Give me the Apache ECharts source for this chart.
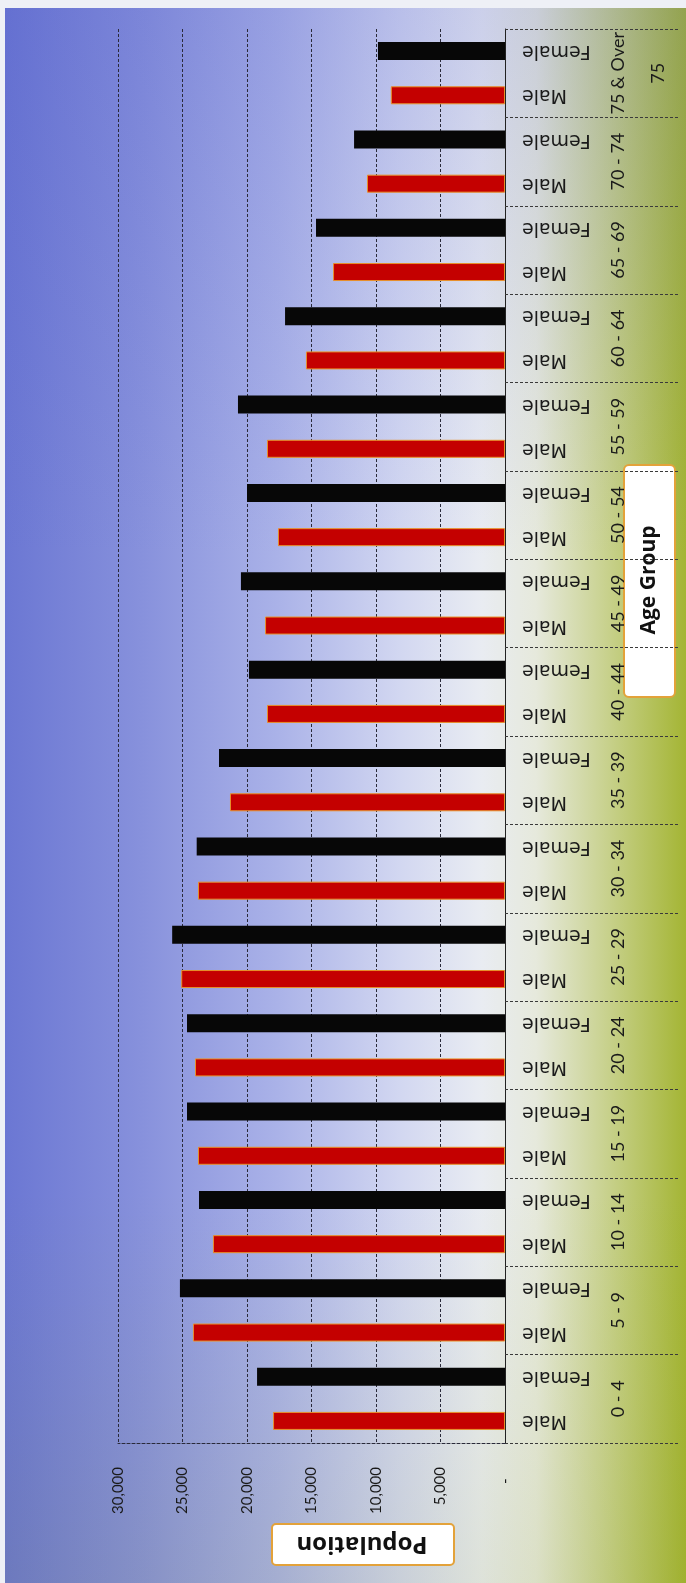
<!DOCTYPE html>
<html>
<head>
<meta charset="utf-8">
<script src="https://cdn.jsdelivr.net/npm/echarts@6/dist/echarts.min.js"></script>
<style>
html,body{margin:0;padding:0;}
body{width:686px;height:1583px;overflow:hidden;background:#eef0f6;}
#bg{position:absolute;left:5px;top:8px;width:681px;height:1575px;
background:
 linear-gradient(to bottom, rgba(70,80,200,0.18) 0%, rgba(255,255,255,0) 35%, rgba(255,255,255,0) 75%, rgba(120,140,0,0.10) 100%),
 linear-gradient(to right, #6b77d3 0%, #8791dc 20%, #aab2e8 40%, #d2d7f1 58%, #e9ecf2 70%, #e6e9dc 78%, #c9d290 88%, #a4b534 100%);}
#chart{position:absolute;left:0;top:0;width:686px;height:1583px;}
</style>
</head>
<body>
<div id="bg"></div>
<div id="chart"></div>
<script>
var ageGroups = ['0 - 4','5 - 9','10 - 14','15 - 19','20 - 24','25 - 29','30 - 34','35 - 39','40 - 44','45 - 49','50 - 54','55 - 59','60 - 64','65 - 69','70 - 74','75 & Over\n75'];
var sexLabels = ['Male','Female'];
var maleValues   = [17980, 24190, 22640, 23800, 24030, 25100, 23800, 21320, 18450, 18600, 17600, 18450, 15430, 13330, 10700, 8850];
var femaleValues = [19220, 25200, 23720, 24650, 24650, 25800, 23900, 22170, 19850, 20470, 20000, 20700, 17050, 14650, 11700, 9850];
var valueTicks = [0, 5000, 10000, 15000, 20000, 25000, 30000];
</script>
<script>
var subCats = [], barData = [];
for (var i = 0; i < ageGroups.length; i++) {
  subCats.push(sexLabels[0]); barData.push({value: maleValues[i], itemStyle:{color:'#c40000', borderColor:'#e8902a', borderWidth:1}});
  subCats.push(sexLabels[1]); barData.push({value: femaleValues[i], itemStyle:{color:'#070707'}});
}
var chart = echarts.init(document.getElementById('chart'), null, {renderer:'canvas'});
var gridLine = {color:'#2a2a3a', width:1, type:[3,2]};
chart.setOption({
  backgroundColor: 'transparent',
  animation: false,
  grid: {left:118, right:181, top:29, bottom:140, containLabel:false},
  xAxis: {
    type:'value', inverse:true, min:valueTicks[0], max:valueTicks[valueTicks.length-1], interval:5000,
    position:'bottom',
    axisLine:{show:true, lineStyle:gridLine},
    axisTick:{show:false},
    splitLine:{show:true, lineStyle:gridLine},
    axisLabel:{rotate:90, margin:24, fontFamily:'Lato', fontSize:15, color:'#1a1a1a',
      formatter:function(v){ return v===0 ? '-   ' : v.toLocaleString('en-US'); }}
  },
  yAxis: [
    {type:'category', data:subCats, position:'right', gridIndex:0,
     axisLine:{show:true, lineStyle:{color:'#222', width:1}},
     axisTick:{show:false},
     splitLine:{show:false},
     axisLabel:{interval:0, rotate:180, margin:17, fontFamily:'DejaVu Sans', fontSize:19, color:'#1a1a1a'}},
    {type:'category', data:ageGroups, position:'right', gridIndex:0,
     axisLine:{show:false},
     axisTick:{show:true, interval:0, length:175, lineStyle:{color:'#3a3a3a', width:1, type:[3,2]}},
     splitLine:{show:false},
     axisLabel:{interval:0, rotate:90, margin:93, fontFamily:'Lato', fontSize:18, lineHeight:40, color:'#1a1a1a'}}
  ],
  series: [{
    type:'bar', yAxisIndex:0, xAxisIndex:0, barWidth:18, data:barData
  }],
  graphic: [
    {type:'rect', left:271, top:1523, shape:{width:182, height:41, r:4},
     style:{fill:'#ffffff', stroke:'#e3a23a', lineWidth:2}},
    {type:'text', x:362, y:1544, rotation:Math.PI,
     style:{text:'Population', fontFamily:'Open Sans', fontWeight:'bold', fontSize:24, fill:'#111', align:'center', verticalAlign:'middle'}},
    {type:'rect', left:623, top:464, shape:{width:51, height:232, r:5},
     style:{fill:'#ffffff', stroke:'#e3a23a', lineWidth:2}},
    {type:'text', x:649, y:580, rotation:Math.PI/2,
     style:{text:'Age Group', fontFamily:'Open Sans', fontWeight:'bold', fontSize:21, fill:'#111', align:'center', verticalAlign:'middle'}}
  ]
});
</script>
</body>
</html>
